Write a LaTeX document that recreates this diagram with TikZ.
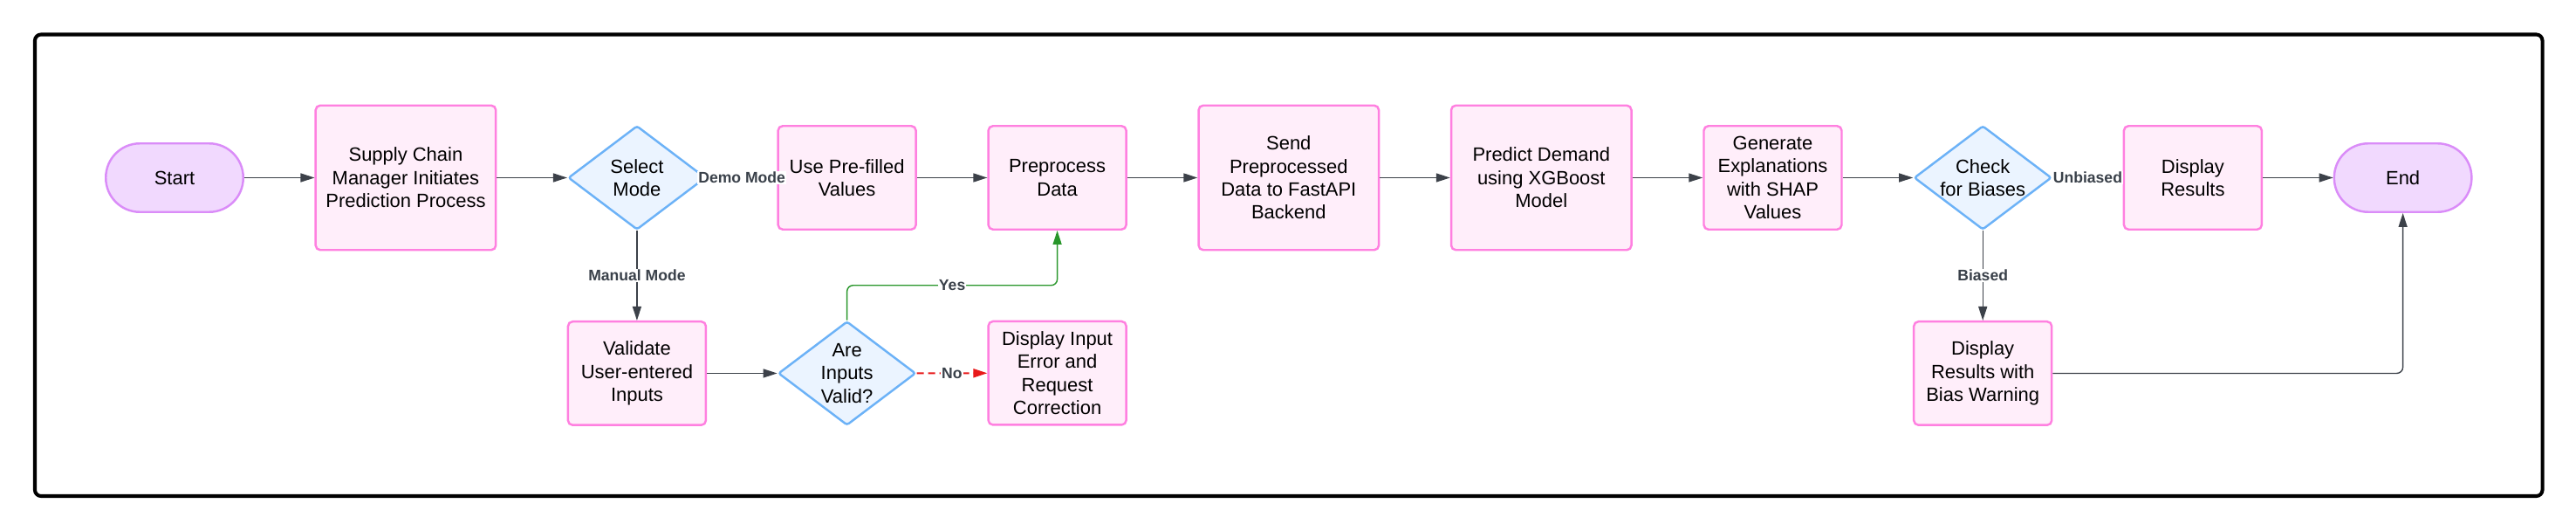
\documentclass[tikz,border=0pt]{standalone}
\usepackage{fontspec}
\setmainfont{Liberation Sans}
\usetikzlibrary{arrows.meta,chains,positioning,shapes.geometric}
\definecolor{procfill}{HTML}{FFEEFA}
\definecolor{procline}{HTML}{FF80E0}
\definecolor{termfill}{HTML}{F1D9FE}
\definecolor{termline}{HTML}{DA8CF8}
\definecolor{decfill}{HTML}{EBF4FF}
\definecolor{decline}{HTML}{6CB2F7}
\definecolor{flowgray}{HTML}{3C4149}
\definecolor{labelgray}{HTML}{3A414A}
\definecolor{yesgreen}{HTML}{28962A}
\definecolor{nored}{HTML}{E8191A}
\tikzset{
    flow/.style = {
        draw = flowgray,
        line width = 0.8pt,
        -{Triangle[length=0.32cm, width=0.2cm]},
        },
    edge label/.style = {
        font = \fontsize{10}{12}\selectfont\bfseries,
        text = labelgray,
        fill = white,
        inner sep = 0.5pt,
        },
    ProcBlock/.style = {
        draw = procline,
        fill = procfill,
        line width = 1.4pt,
        rounded corners = 3pt,
        align = center,
        font = \fontsize{12.5}{15}\selectfont,
        minimum width = 3.16cm,
        minimum height = 2.37cm,
        },
    BigBlock/.style = {
        ProcBlock,
        minimum width = 4.13cm,
        minimum height = 3.31cm,
        },
    DecBlock/.style = {
        diamond,
        draw = decline,
        fill = decfill,
        line width = 1.4pt,
        rounded corners = 1.5pt,
        align = center,
        font = \fontsize{12.5}{15}\selectfont,
        aspect = 1.3,
        inner xsep = -0.35cm,
        inner ysep = 0pt,
        minimum width = 3.15cm,
        minimum height = 2.38cm,
        },
    TermBlock/.style = {
        rectangle,
        draw = termline,
        fill = termfill,
        line width = 1.4pt,
        rounded corners = 0.78cm,
        font = \fontsize{12.5}{15}\selectfont,
        minimum width = 3.15cm,
        minimum height = 1.57cm,
        },
}

\begin{document}
\begin{tikzpicture}
            [
                start chain,
                node distance = 1.61cm,
            ]

            \useasboundingbox (0,0) rectangle (59.04,-12.16);
            \draw[line width=2.3pt, rounded corners=4pt] (0.80,-0.79) rectangle (58.27,-11.36);

            { start chain = going right
            \node [TermBlock,on chain] at (4.0,-4.07) (start) {Start};
            \node [BigBlock,on chain] (supply) {Supply Chain\\Manager Initiates\\Prediction Process};
            \node [DecBlock,on chain] (sel) {Select\\Mode};
            \node [ProcBlock,on chain] (prefill) {Use Pre-filled\\Values};
            \node [ProcBlock,on chain] (preproc) {Preprocess\\Data};
            \node [BigBlock,on chain] (send) {Send\\Preprocessed\\Data to FastAPI\\Backend};
            \node [BigBlock,on chain] (predict) {Predict Demand\\using XGBoost\\Model};
            \node [ProcBlock,on chain] (explain) {Generate\\Explanations\\with SHAP\\Values};
            \node [DecBlock,on chain] (bias) {Check\\for Biases};
            \node [ProcBlock,on chain] (result) {Display\\Results};
            \node [TermBlock,on chain] (end) {End};
            }

            \node [ProcBlock,below=2.055cm of sel] (valid) {Validate\\User-entered\\Inputs};
            \node [DecBlock,below=2.055cm of prefill] (valq) {Are\\Inputs\\Valid?};
            \node [ProcBlock,below=2.055cm of preproc] (error) {Display Input\\Error and\\Request\\Correction};
            \node [ProcBlock,below=2.055cm of bias] (warn) {Display\\Results with\\Bias Warning};

            \draw[flow] (start) -- (supply);
            \draw[flow] (supply) -- (sel);
            \draw[flow] (sel) -- node[edge label] {Demo Mode} (prefill);
            \draw[flow] (prefill) -- (preproc);
            \draw[flow] (preproc) -- (send);
            \draw[flow] (send) -- (predict);
            \draw[flow] (predict) -- (explain);
            \draw[flow] (explain) -- (bias);
            \draw[flow] (bias) -- node[edge label] {Unbiased} (result);
            \draw[flow] (result) -- (end);
            \draw[flow] (sel) -- node[edge label] {Manual Mode} (valid);
            \draw[flow] (valid) -- (valq);
            \draw[flow, draw=yesgreen, rounded corners=4pt] (valq.north) -- ++(0,0.8) -| node[edge label, pos=0.25] {Yes} (preproc.south);
            \draw[flow, draw=nored, line width=1.1pt, dash pattern=on 0.16cm off 0.1cm] (valq) -- node[edge label] {No} (error);
            \draw[flow] (bias) -- node[edge label] {Biased} (warn);
            \draw[flow, rounded corners=4pt] (warn.east) -| (end.south);
        \end{tikzpicture}
\end{document}
